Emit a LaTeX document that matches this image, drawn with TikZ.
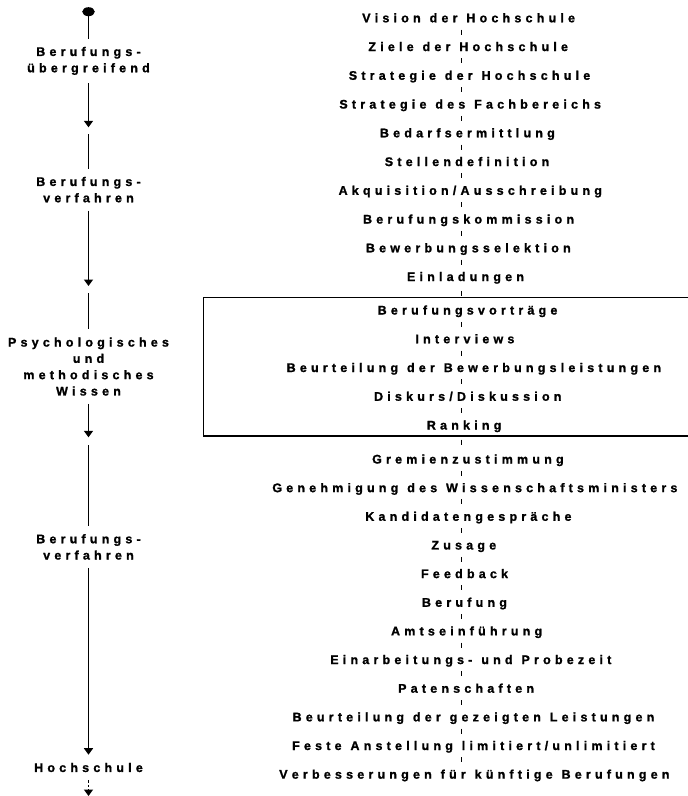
\documentclass[tikz,border=0pt]{standalone}
\usepackage{fontspec}
\setmainfont{Liberation Sans}[BoldFeatures={FakeBold=1.2}]
\usetikzlibrary{arrows.meta,shapes.geometric,calc}

% ---- tracked (letter-spaced) text: a kern after every glyph, wider gaps between words
\newlength\lettergap \setlength\lettergap{4.2pt}
\newlength\wordgap   \setlength\wordgap{4.7pt}
\makeatletter
\def\trk@stop{TRK@STOP}
\newcommand\trk[1]{\trk@words#1 \trk@end}
\def\trk@words#1 #2\trk@end{%
  \trk@chars#1\trk@stop
  \ifx\relax#2\relax\unkern\else\hspace{\wordgap}\trk@words#2\trk@end\fi}
\def\trk@chars#1{%
  \ifx#1\trk@stop\else#1\kern\lettergap\expandafter\trk@chars\fi}
\makeatother

% step labels are set slightly narrower than their ink, so long lines lean right
\newsavebox\rowbox
\newcommand\rowtext[1]{\sbox\rowbox{\trk{#1}}\makebox[0.935\wd\rowbox][l]{\usebox\rowbox}}

\tikzset{
  stepname/.style={font=\bfseries\fontsize{12.5}{15}\selectfont,
    text height=9pt, text depth=0pt, inner sep=0pt},
  phase/.style={font=\bfseries\fontsize{12.5}{16.3}\selectfont,
    align=center, anchor=north, inner xsep=2pt, inner ysep=8pt},
  flow/.style={line width=1.4pt, black},
  tip/.style={-{Triangle[width=9pt,length=6.5pt]}},
  tickline/.style={line width=1pt, black},
  frame/.style={line width=1.3pt, black},
  startdot/.style={ellipse, fill=black, minimum width=12.6pt, minimum height=9pt, inner sep=0pt}
}

\begin{document}
\begin{tikzpicture}[x=1pt,y=-1pt]
\useasboundingbox (0,0) rectangle (688,796);

% ---- steps of the appointment process (right column)
\def\cx{461.7}
\node[stepname] (r1)  at (\cx,17.8)   {\rowtext{Vision der Hochschule}};
\node[stepname] (r2)  at (\cx,46.55)  {\rowtext{Ziele der Hochschule}};
\node[stepname] (r3)  at (\cx,75.3)   {\rowtext{Strategie der Hochschule}};
\node[stepname] (r4)  at (\cx,104.05) {\rowtext{Strategie des Fachbereichs}};
\node[stepname] (r5)  at (\cx,132.8)  {\rowtext{Bedarfsermittlung}};
\node[stepname] (r6)  at (\cx,161.55) {\rowtext{Stellendefinition}};
\node[stepname] (r7)  at (\cx,190.3)  {\rowtext{Akquisition/Ausschreibung}};
\node[stepname] (r8)  at (\cx,219.05) {\rowtext{Berufungskommission}};
\node[stepname] (r9)  at (\cx,247.8)  {\rowtext{Bewerbungsselektion}};
\node[stepname] (r10) at (\cx,276.55) {\rowtext{Einladungen}};
\node[stepname] (r11) at (\cx,310)    {\rowtext{Berufungsvorträge}};
\node[stepname] (r12) at (\cx,338.75) {\rowtext{Interviews}};
\node[stepname] (r13) at (\cx,367.5)  {\rowtext{Beurteilung der Bewerbungsleistungen}};
\node[stepname] (r14) at (\cx,396.25) {\rowtext{Diskurs/Diskussion}};
\node[stepname] (r15) at (\cx,425)    {\rowtext{Ranking}};
\node[stepname] (r16) at (\cx,459)    {\rowtext{Gremienzustimmung}};
\node[stepname] (r17) at (\cx,487.65) {\rowtext{Genehmigung des Wissenschaftsministers}};
\node[stepname] (r18) at (\cx,516.3)  {\rowtext{Kandidatengespräche}};
\node[stepname] (r19) at (\cx,544.95) {\rowtext{Zusage}};
\node[stepname] (r20) at (\cx,573.6)  {\rowtext{Feedback}};
\node[stepname] (r21) at (\cx,602.25) {\rowtext{Berufung}};
\node[stepname] (r22) at (\cx,630.9)  {\rowtext{Amtseinführung}};
\node[stepname] (r23) at (\cx,659.55) {\rowtext{Einarbeitungs- und Probezeit}};
\node[stepname] (r24) at (\cx,688.2)  {\rowtext{Patenschaften}};
\node[stepname] (r25) at (\cx,716.85) {\rowtext{Beurteilung der gezeigten Leistungen}};
\node[stepname] (r26) at (\cx,745.5)  {\rowtext{Feste Anstellung limitiert/unlimitiert}};
\node[stepname] (r27) at (\cx,774.15) {\rowtext{Verbesserungen für künftige Berufungen}};

% short link marks between consecutive steps
\foreach \a/\b in {r1/r2,r2/r3,r3/r4,r4/r5,r5/r6,r6/r7,r7/r8,r8/r9,r9/r10,
                   r10/r11,r11/r12,r12/r13,r13/r14,r14/r15,r15/r16,r16/r17,
                   r17/r18,r18/r19,r19/r20,r20/r21,r21/r22,r22/r23,r23/r24,
                   r24/r25,r25/r26,r26/r27}
  \draw[tickline] ($(\a)!0.5!(\b)+(0,-2.5)$) -- ($(\a)!0.5!(\b)+(0,2.5)$);

% open frame around the selection steps
\draw[frame] (688,297.3) -- (203.3,297.3) -- (203.3,436) -- (688,436);

% ---- phases (left column)
\def\lx{88.5}
\node[startdot] (start) at (\lx,11.7) {};
\node[phase] (L1) at (\lx,38.7)  {\trk{Berufungs-}\\\trk{übergreifend}};
\node[phase] (L2) at (\lx,168.7) {\trk{Berufungs-}\\\trk{verfahren}};
\node[phase] (L3) at (\lx,329.3) {\trk{Psychologisches}\\\trk{und}\\\trk{methodisches}\\\trk{Wissen}};
\node[phase] (L4) at (\lx,526)   {\trk{Berufungs-}\\\trk{verfahren}};
\node[phase] (L5) at (\lx,754.7) {\trk{Hochschule}};

\coordinate (a1) at (\lx,127.3);
\coordinate (b1) at (\lx,134);
\coordinate (a2) at (\lx,286);
\coordinate (b2) at (\lx,293.3);
\coordinate (a3) at (\lx,437.3);
\coordinate (b3) at (\lx,445);
\coordinate (a4) at (\lx,796);

\draw[flow] (start.south) -- (L1.north);
\draw[flow,tip] (L1.south) -- (a1);
\draw[flow] (b1) -- (L2.north);
\draw[flow,tip] (L2.south) -- (a2);
\draw[flow] (b2) -- (L3.north);
\draw[flow,tip] (L3.south) -- (a3);
\draw[flow] (b3) -- (L4.north);
\draw[flow,tip] (L4.south) -- (L5.north);
\draw[flow,tip,dash pattern=on 2.5pt off 2pt] (L5.south) -- (a4);
\end{tikzpicture}
\end{document}
